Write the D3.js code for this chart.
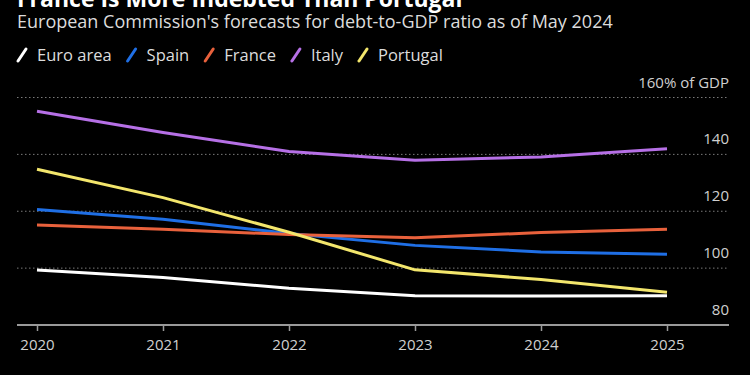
<!DOCTYPE html>
<html>
<head>
<meta charset="utf-8">
<script src="https://cdn.jsdelivr.net/npm/d3@7"></script>
<style>
  html, body { margin: 0; padding: 0; background: #000; }
  svg { display: block; }
  text { font-family: "Open Sans", "Noto Sans", sans-serif; }
</style>
</head>
<body>
<svg id="chart" width="750" height="375"></svg>
<script>
const years = [2020, 2021, 2022, 2023, 2024, 2025];
const seriesNames = ["Euro area", "Spain", "France", "Italy", "Portugal"];
const euroArea = [99.3, 96.7, 92.9, 90.3, 90.2, 90.3];
const spain    = [120.6, 117.2, 112.2, 108.0, 105.7, 104.9];
const france   = [115.2, 113.7, 111.8, 110.7, 112.5, 113.7];
const italy    = [155.2, 147.7, 141.0, 137.9, 139.1, 142.0];
const portugal = [134.8, 124.8, 112.6, 99.4, 96.0, 91.5];
const colors = ["#ffffff", "#1f6fe5", "#e8613c", "#b670e6", "#f3e66c"];
const yTicks = [80, 100, 120, 140, 160];
const titleText = "France Is More Indebted Than Portugal";
const subtitleText = "European Commission's forecasts for debt-to-GDP ratio as of May 2024";

const seriesValues = [euroArea, spain, france, italy, portugal];

const svg = d3.select("#chart");
svg.append("rect").attr("width", 750).attr("height", 375).attr("fill", "#000");

const x = d3.scaleLinear().domain([2020, 2025]).range([37, 667]);
const y = d3.scaleLinear().domain([80, 160]).range([325, 97.5]);

// Title & subtitle
svg.append("text").attr("x", 17).attr("y", 7)
  .attr("fill", "#fff").attr("font-size", 23).attr("font-weight", 700)
  .text(titleText);
svg.append("text").attr("x", 17).attr("y", 28)
  .attr("fill", "#dcdcdc").attr("font-size", 18)
  .text(subtitleText);

// Legend
const legend = svg.append("g");
let lx = 18;
seriesNames.forEach((name, i) => {
  const g = legend.append("g").attr("transform", `translate(${lx},55)`);
  g.append("line").attr("x1", 0).attr("y1", 6).attr("x2", 8).attr("y2", -6)
    .attr("stroke", colors[i]).attr("stroke-width", 3).attr("stroke-linecap", "round");
  const t = g.append("text").attr("x", 19).attr("y", 6)
    .attr("fill", "#dcdcdc").attr("font-size", 16.5).text(name);
  const w = t.node().getComputedTextLength();
  lx += 19 + w + 16;
});

// Gridlines
const grid = svg.append("g");
grid.selectAll("line").data(yTicks.filter(d => d !== 80)).join("line")
  .attr("x1", 17).attr("x2", 729)
  .attr("y1", d => y(d)).attr("y2", d => y(d))
  .attr("stroke", "#7a7a7a").attr("stroke-width", 1)
  .attr("stroke-dasharray", "1.5,2.5");

// Y labels
svg.append("g").selectAll("text").data(yTicks).join("text")
  .attr("x", 729).attr("y", d => y(d) - 10)
  .attr("text-anchor", "end")
  .attr("fill", "#d0d0d0").attr("font-size", 15)
  .text(d => d === 160 ? "160% of GDP" : d);

// X axis
const xAxis = d3.axisBottom(x).tickValues(years).tickFormat(d3.format("d"))
  .tickSize(6).tickPadding(8);
const ax = svg.append("g").attr("transform", `translate(0,${y(80)})`).call(xAxis);
ax.select(".domain").remove();
ax.insert("line", ":first-child").attr("x1", 17).attr("x2", 729)
  .attr("stroke", "#9a9a9a").attr("stroke-width", 2);
ax.selectAll(".tick line").attr("stroke", "#9a9a9a").attr("stroke-width", 1.5);
ax.selectAll(".tick text").attr("fill", "#d0d0d0").attr("font-size", 15)
  .attr("font-family", "'Open Sans', 'Noto Sans', sans-serif");

// Lines
const line = d3.line().x((d, i) => x(years[i])).y(d => y(d));
svg.append("g").selectAll("path").data(seriesValues).join("path")
  .attr("d", d => line(d))
  .attr("fill", "none")
  .attr("stroke", (d, i) => colors[i])
  .attr("stroke-width", 3)
  .attr("stroke-linejoin", "round");
</script>
</body>
</html>
